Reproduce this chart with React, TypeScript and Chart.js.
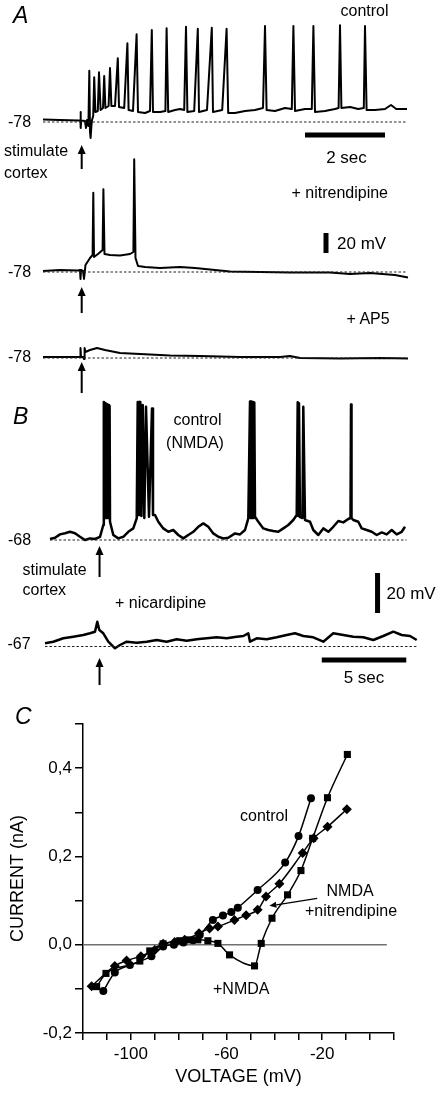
import React, { useEffect, useRef } from 'react';
import { Chart, registerables } from 'chart.js';

Chart.register(...registerables);

const FONT = '"Liberation Sans", Arial, Helvetica, sans-serif';

// ---------------- Panel A : time (s) , membrane potential (mV) ----------------
const controlA: [number, number][] = [
  [0, -75.5], [0.43, -76], [0.9, -76.5],
  [0.935, -76.5], [0.94, -68], [0.945, -84], [0.955, -76.5],
  [1.05, -77], [1.075, -84], [1.1, -76],
  [1.135, -82], [1.158, -26.7], [1.175, -88], [1.19, -94], [1.21, -82],
  [1.225, -76], [1.255, -72], [1.28, -33.3], [1.31, -68],
  [1.37, -67], [1.4, -28.3], [1.44, -66],
  [1.5, -64], [1.53, -32], [1.56, -64],
  [1.64, -62], [1.675, -24], [1.71, -62],
  [1.8, -62], [1.87, -14.3], [1.9, -63],
  [2.03, -64], [2.11, 0.7], [2.14, -66],
  [2.25, -67], [2.34, 9.7], [2.375, -68],
  [2.55, -69], [2.675, -67], [2.72, 14], [2.75, -68],
  [2.93, -68], [3.06, -67], [3.09, 15.7], [3.13, -68],
  [3.3, -66], [3.43, -65], [3.53, -66], [3.575, 17.3], [3.61, -68],
  [3.78, -67], [3.87, 15.3], [3.9, -68],
  [4.1, -66], [4.22, 16.3], [4.25, -68],
  [4.48, -66], [4.59, 15.3], [4.63, -69],
  [4.8, -69], [5.05, -67], [5.3, -66], [5.5, -64], [5.55, 18], [5.59, -66],
  [5.8, -67], [6.05, -64], [6.22, -65], [6.26, 18], [6.3, -67],
  [6.55, -65], [6.72, -65], [6.76, 18], [6.8, -68],
  [7.05, -67], [7.3, -65], [7.39, -64], [7.425, 18.7], [7.46, -64],
  [7.68, -63], [7.88, -65], [8.02, -64], [8.05, 18], [8.09, -66],
  [8.3, -66], [8.55, -65], [8.7, -61], [8.83, -65], [9.1, -65],
];

const nitrendipineA: [number, number][] = [
  [0, -77], [0.425, -76], [0.875, -76.5], [0.925, -76], [0.9375, -85], [0.95, -76],
  [1.0, -77], [1.025, -85], [1.0625, -71], [1.175, -64], [1.24, -61], [1.2575, 1.3],
  [1.275, -63], [1.375, -60], [1.49, -56], [1.51, 4.7], [1.5375, -60],
  [1.675, -61], [1.925, -61.5], [2.175, -60], [2.26, -58], [2.28, 34.7], [2.3125, -64],
  [2.375, -72], [2.55, -73], [2.925, -74], [3.425, -73], [3.8, -74], [4.3, -76],
  [4.675, -77.5], [5.425, -78], [6.175, -78.5], [7.175, -78.5], [7.675, -80],
  [8.175, -79], [8.8, -81], [9.125, -83.5],
];

const ap5A: [number, number][] = [
  [0, -77], [0.875, -77], [0.925, -77], [0.9375, -68], [0.95, -77], [1.0, -77],
  [1.025, -79], [1.04, -68], [1.06, -72], [1.175, -70], [1.35, -68], [1.55, -70],
  [1.925, -73], [2.425, -74], [3.175, -75.5], [3.925, -76], [4.925, -77], [5.925, -77],
  [6.175, -76], [6.425, -78], [7.425, -78.5], [8.425, -78], [9.125, -78.5],
];

const restingA = -78; // mV, dotted baselines
const baselineSpanA: [number, number] = [0, 9.1];
const stimTimeA = 0.9675;

// ---------------- Panel B : time (s) , membrane potential (mV) ----------------
const controlB: [number, number][] = [
  [0.118, -67.5], [0.414, -66.9], [0.71, -65.2], [1.006, -64.6], [1.302, -63.9], [1.598, -64.6],
  [1.893, -66.4], [2.189, -68], [2.485, -67.2], [2.781, -67.5], [3.077, -66.4], [3.272, -60.5],
  [3.302, 1], [3.343, -57], [3.391, 0.5], [3.432, -57], [3.479, 0], [3.521, -57], [3.568, -0.5],
  [3.609, -57], [3.645, -1],
  [3.669, -58.9], [3.864, -65.5], [4.16, -67.2], [4.456, -66.4], [4.751, -63.9], [5.047, -62.2], [5.249, -57.2],
  [5.308, 1], [5.35, -55.5], [5.385, 1], [5.42, -55.5], [5.462, 1], [5.53, -56], [5.604, -0.5],
  [5.7, -57], [5.799, -1.4], [5.976, -56.4], [6.154, -2.2], [6.213, -55.5],
  [6.331, -55.5], [6.527, -58.9], [6.822, -62.2], [7.118, -63.9], [7.414, -63], [7.71, -65.5],
  [8.006, -67.2], [8.302, -65.5], [8.598, -63.9], [8.893, -61.4], [9.189, -59.7], [9.485, -61.4],
  [9.781, -64.7], [10.077, -66.4], [10.373, -67.2], [10.669, -66.9], [11.065, -64.7], [11.361, -65.2],
  [11.657, -63], [11.852, -57.2],
  [11.953, 1.2], [11.994, -57], [12.041, 1.2], [12.083, -57], [12.13, 1], [12.166, -57], [12.207, 0.8],
  [12.249, -56.4], [12.444, -58.9], [12.74, -62.2], [13.036, -63], [13.331, -63.5], [13.627, -63.9],
  [13.923, -62.2], [14.219, -60.5], [14.515, -58], [14.716, -55.5],
  [14.775, 0.9], [14.811, -56], [14.852, 0.4], [14.911, -56.5], [15.059, -57], [15.107, -1.4],
  [15.207, -58], [15.503, -58.9], [15.698, -63], [15.994, -65.5], [16.29, -62.2], [16.586, -63.9],
  [16.882, -61.4], [17.178, -58.5], [17.473, -59.2], [17.769, -57.5], [17.9, -57], [17.929, -0.2],
  [17.96, -57], [18.065, -58], [18.361, -58.9], [18.562, -62.2], [18.858, -63], [19.154, -63.9],
  [19.45, -65.5], [19.746, -64.2], [20.041, -65.2], [20.337, -63], [20.633, -65.2], [20.929, -63.9],
  [21.124, -61.4],
];

const nicardipineB: [number, number][] = [
  [-0.178, -65.4], [0.314, -64.6], [0.905, -62.9], [1.497, -62.1], [2.089, -61.25], [2.485, -60.4],
  [2.781, -59.6], [2.917, -54.6], [3.036, -58.75], [3.272, -60.4], [3.568, -64.6], [3.964, -67.9],
  [4.26, -66.25], [4.657, -64.6], [5.249, -65.1], [5.84, -64.6], [6.432, -63.75], [7.024, -64.6],
  [7.615, -63.4], [8.207, -64.1], [8.799, -63.4], [9.391, -62.9], [9.982, -62.4], [10.574, -62.9],
  [11.166, -62.1], [11.556, -61.75], [11.852, -60.4], [11.953, -64.6], [12.349, -62.9], [12.941, -63.4],
  [13.533, -62.4], [14.124, -61.25], [14.615, -60.4], [15.107, -61.75], [15.698, -62.4], [16.29, -64.6],
  [16.882, -60.4], [17.473, -61.25], [18.065, -62.1], [18.657, -62.4], [19.249, -63.75], [19.84, -61.75],
  [20.432, -59.6], [20.929, -61.25], [21.42, -61.75], [21.817, -63.75],
];

const restingB1 = -68;
const restingB2 = -67;
const baselineSpanB1: [number, number] = [0.118, 21.22];
const baselineSpanB2: [number, number] = [-0.18, 21.8];
const stimTimeB = 3.05;

// ---------------- Panel C : voltage (mV) , current (nA) ----------------
const ivControl: [number, number][] = [
  [-111.5, -0.105], [-106.7, -0.063], [-100.4, -0.046], [-91.4, -0.026], [-86.5, -0.004],
  [-82, 0.0], [-78, 0.005], [-74, 0.01], [-71.2, 0.022], [-65.7, 0.056], [-61.5, 0.066],
  [-58, 0.074], [-55.3, 0.084], [-47, 0.124], [-35.5, 0.186], [-29.9, 0.246], [-24.7, 0.332],
];
const ivNitrendipine: [number, number][] = [
  [-116.4, -0.094], [-106.7, -0.048], [-101.8, -0.036], [-95.8, -0.026], [-90, -0.012],
  [-86.5, 0.002], [-81.7, 0.006], [-77.5, 0.011], [-71.5, 0.026], [-67.1, 0.037], [-63.6, 0.041],
  [-56.7, 0.056], [-51.8, 0.067], [-47, 0.079], [-43.5, 0.109], [-37.9, 0.138], [-28.2, 0.208],
  [-23.6, 0.241], [-17.8, 0.267], [-9.7, 0.307],
];
const ivNMDA: [number, number][] = [
  [-114.3, -0.095], [-110.4, -0.065], [-96.25, -0.037], [-92.1, -0.014], [-86.5, 0.002],
  [-79.6, 0.009], [-76.1, 0.011], [-72, 0.011], [-67.8, 0.009], [-63.6, 0.003], [-58.75, -0.023],
  [-48.3, -0.048], [-45.5, 0.003], [-41, 0.06], [-34.5, 0.113], [-28.9, 0.168], [-24, 0.241],
  [-17.8, 0.333], [-9.5, 0.431],
];
const zeroLineSpan: [number, number] = [-120, 7];
const voltageLabels = [-100, -60, -20];
const currentLabels = [-0.2, 0, 0.2, 0.4];

// ---------------- scale bars ----------------
const barSecA = 2;
const barMvA = 20;
const barSecB = 5;
const barMvB = 20;

// ---------------- layout (page pixels) ----------------
const W = 442;
const H = 1093;

const toXY = (arr: [number, number][]) => arr.map(([x, y]) => ({ x, y }));

const arrowPlugin = {
  id: 'arrowMarks',
  afterDatasetsDraw(chart: any, _args: any, opts: any) {
    const arrows = (opts && opts.arrows) || [];
    const ctx = chart.ctx;
    const xs = chart.scales.x;
    ctx.save();
    for (const a of arrows) {
      const ys = chart.scales[a.axis];
      const x1 = xs.getPixelForValue(a.x1);
      const y1 = ys.getPixelForValue(a.y1);
      const x2 = xs.getPixelForValue(a.x2);
      const y2 = ys.getPixelForValue(a.y2);
      const ang = Math.atan2(y2 - y1, x2 - x1);
      const hl = a.head;
      const hw = a.half;
      const bx = x2 - hl * Math.cos(ang);
      const by = y2 - hl * Math.sin(ang);
      ctx.strokeStyle = '#000';
      ctx.fillStyle = '#000';
      ctx.lineWidth = a.width;
      ctx.beginPath();
      ctx.moveTo(x1, y1);
      ctx.lineTo(bx, by);
      ctx.stroke();
      ctx.beginPath();
      ctx.moveTo(x2, y2);
      ctx.lineTo(bx + hw * Math.sin(ang), by - hw * Math.cos(ang));
      ctx.lineTo(bx - hw * Math.sin(ang), by + hw * Math.cos(ang));
      ctx.closePath();
      ctx.fill();
    }
    ctx.restore();
  },
};

const traceDs = (arr: [number, number][], axis: string, width: number) => ({
  data: toXY(arr),
  yAxisID: axis,
  borderColor: '#000',
  borderWidth: width,
  pointRadius: 0,
  tension: 0,
  borderJoinStyle: 'round' as const,
  fill: false,
});

const dashDs = (span: [number, number], v: number, axis: string) => ({
  data: [{ x: span[0], y: v }, { x: span[1], y: v }],
  yAxisID: axis,
  borderColor: '#222',
  borderWidth: 1,
  borderDash: [2.5, 2],
  pointRadius: 0,
  fill: false,
});

const barDs = (pts: { x: number; y: number }[], axis: string) => ({
  data: pts,
  yAxisID: axis,
  borderColor: '#000',
  borderWidth: 5,
  borderCapStyle: 'butt' as const,
  pointRadius: 0,
  fill: false,
});

// pixel mapping helpers for hidden linear scales
const range = (valAtPx: number, px: number, pxPerUnit: number, top: number, height: number) => ({
  max: valAtPx + (px - top) / pxPerUnit,
  min: valAtPx - (top + height - px) / pxPerUnit,
});

const hidden = (r: { min: number; max: number }) => ({ type: 'linear' as const, display: false, min: r.min, max: r.max });

const baseOpts = {
  animation: false as const,
  responsive: false,
  maintainAspectRatio: false,
  layout: { padding: 0 },
  events: [] as any[],
};

const LABELS: { t: string; x: number; y: number; size?: number; anchor?: string; italic?: boolean }[] = [
  { t: 'A', x: 13, y: 15, size: 23, italic: true },
  { t: 'control', x: 340.5, y: 11 },
  { t: '-78', x: 8, y: 122 },
  { t: 'stimulate', x: 4, y: 151 },
  { t: 'cortex', x: 4, y: 172.5 },
  { t: '2 sec', x: 346.5, y: 157, anchor: 'center', size: 17 },
  { t: '+ nitrendipine', x: 291.5, y: 193 },
  { t: '20 mV', x: 337, y: 243, size: 17 },
  { t: '-78', x: 8, y: 271.5 },
  { t: '+ AP5', x: 346.5, y: 319 },
  { t: '-78', x: 8, y: 357 },
  { t: 'B', x: 13, y: 416, size: 23, italic: true },
  { t: 'control', x: 197.5, y: 420, anchor: 'center' },
  { t: '(NMDA)', x: 195, y: 443, anchor: 'center' },
  { t: '-68', x: 8, y: 540 },
  { t: 'stimulate', x: 22.5, y: 570 },
  { t: 'cortex', x: 22.5, y: 590 },
  { t: '20 mV', x: 386.5, y: 593, size: 17 },
  { t: '+ nicardipine', x: 115, y: 603 },
  { t: '-67', x: 7.5, y: 643.5 },
  { t: '5 sec', x: 364, y: 677, anchor: 'center', size: 17 },
  { t: 'C', x: 15, y: 716, size: 23, italic: true },
  { t: 'control', x: 240, y: 816 },
  { t: 'NMDA', x: 326.5, y: 891 },
  { t: '+nitrendipine', x: 305, y: 911 },
  { t: '+NMDA', x: 213, y: 989 },
];

function Label({ t, x, y, size = 16, anchor = 'left', italic = false }: any) {
  const tx = anchor === 'left' ? '0' : anchor === 'center' ? '-50%' : '-100%';
  return (
    <div
      style={{
        position: 'absolute',
        left: x,
        top: y,
        transform: `translate(${tx}, -50%)`,
        fontSize: size,
        lineHeight: 1,
        whiteSpace: 'nowrap',
        fontStyle: italic ? 'italic' : 'normal',
        color: '#000',
      }}
    >
      {t}
    </div>
  );
}

// canvas placements
const A_BOX = { top: 0, height: 420 };
const B_BOX = { top: 380, height: 320 };
const C_BOX = { top: 700, height: 393 };

export default function App() {
  const refA = useRef<HTMLCanvasElement>(null);
  const refB = useRef<HTMLCanvasElement>(null);
  const refC = useRef<HTMLCanvasElement>(null);

  useEffect(() => {
    // ---------- Panel A ----------
    const pxPerSecA = 40;
    const t0PxA = 43;
    const xA = range(0, t0PxA, pxPerSecA, 0, W);
    const xAr = { min: xA.min === undefined ? 0 : -t0PxA / pxPerSecA, max: (W - t0PxA) / pxPerSecA };
    const pxPerMvA = 1;
    const yCtl = range(restingA, 122 - A_BOX.top, pxPerMvA, 0, A_BOX.height);
    const yNit = range(restingA, 272 - A_BOX.top, pxPerMvA, 0, A_BOX.height);
    const yAp5 = range(restingA, 358 - A_BOX.top, pxPerMvA, 0, A_BOX.height);
    // invert range sense: larger mV is up
    const fix = (r: { min: number; max: number }, px: number, v: number, ppu: number, h: number) => ({
      max: v + px / ppu,
      min: v - (h - px) / ppu,
    });
    const yCtlR = fix(yCtl, 122 - A_BOX.top, restingA, pxPerMvA, A_BOX.height);
    const yNitR = fix(yNit, 272 - A_BOX.top, restingA, pxPerMvA, A_BOX.height);
    const yAp5R = fix(yAp5, 358 - A_BOX.top, restingA, pxPerMvA, A_BOX.height);

    const barAx = 6.55;
    const barAv = -91;
    const mvBarT = 7.075;
    const mvBarV = -59;

    const chartA = new Chart(refA.current as HTMLCanvasElement, {
      type: 'line',
      data: {
        datasets: [
          dashDs(baselineSpanA, restingA, 'yCtl'),
          dashDs(baselineSpanA, restingA, 'yNit'),
          dashDs(baselineSpanA, restingA, 'yAp5'),
          traceDs(controlA, 'yCtl', 2),
          traceDs(nitrendipineA, 'yNit', 2),
          traceDs(ap5A, 'yAp5', 2),
          barDs([{ x: barAx, y: barAv }, { x: barAx + barSecA, y: barAv }], 'yCtl'),
          barDs([{ x: mvBarT, y: mvBarV }, { x: mvBarT, y: mvBarV + barMvA }], 'yNit'),
        ] as any,
      },
      options: {
        ...baseOpts,
        plugins: {
          legend: { display: false },
          tooltip: { enabled: false },
          arrowMarks: {
            arrows: [
              { axis: 'yCtl', x1: stimTimeA, y1: -125, x2: stimTimeA, y2: -101, width: 2, head: 9, half: 4 },
              { axis: 'yNit', x1: stimTimeA, y1: -119, x2: stimTimeA, y2: -93, width: 2, head: 9, half: 4 },
              { axis: 'yAp5', x1: stimTimeA, y1: -113, x2: stimTimeA, y2: -82, width: 2, head: 9, half: 4 },
            ],
          },
        } as any,
        scales: {
          x: hidden(xAr),
          yCtl: hidden(yCtlR),
          yNit: hidden(yNitR),
          yAp5: hidden(yAp5R),
        } as any,
      },
      plugins: [arrowPlugin as any],
    });

    // ---------- Panel B ----------
    const pxPerSecB = 16.9;
    const t0PxB = 48;
    const xBr = { min: -t0PxB / pxPerSecB, max: (W - t0PxB) / pxPerSecB };
    const pxPerMvB = 2;
    const yB1 = fix({ min: 0, max: 0 }, 540 - B_BOX.top, restingB1, pxPerMvB, B_BOX.height);
    const yB2 = fix({ min: 0, max: 0 }, 646.5 - B_BOX.top, restingB2, pxPerMvB, B_BOX.height);
    const barBx = 16.2;
    const barBv = -73.75;
    const mvBarBt = 19.5;
    const mvBarBv = -104.5;

    const chartB = new Chart(refB.current as HTMLCanvasElement, {
      type: 'line',
      data: {
        datasets: [
          dashDs(baselineSpanB1, restingB1, 'yB1'),
          dashDs(baselineSpanB2, restingB2, 'yB2'),
          traceDs(controlB, 'yB1', 2.5),
          traceDs(nicardipineB, 'yB2', 2.5),
          barDs([{ x: barBx, y: barBv }, { x: barBx + barSecB, y: barBv }], 'yB2'),
          barDs([{ x: mvBarBt, y: mvBarBv }, { x: mvBarBt, y: mvBarBv + barMvB }], 'yB1'),
        ] as any,
      },
      options: {
        ...baseOpts,
        plugins: {
          legend: { display: false },
          tooltip: { enabled: false },
          arrowMarks: {
            arrows: [
              { axis: 'yB1', x1: stimTimeB, y1: -86.5, x2: stimTimeB, y2: -71, width: 2, head: 9, half: 4 },
              { axis: 'yB2', x1: stimTimeB, y1: -86.25, x2: stimTimeB, y2: -72.75, width: 2, head: 9, half: 4 },
            ],
          },
        } as any,
        scales: {
          x: hidden(xBr),
          yB1: hidden(yB1),
          yB2: hidden(yB2),
        } as any,
      },
      plugins: [arrowPlugin as any],
    });

    // ---------- Panel C ----------
    const ivDs = (arr: [number, number][], style: string, radius: number) => ({
      data: toXY(arr),
      borderColor: '#000',
      backgroundColor: '#000',
      borderWidth: 1.5,
      pointStyle: style,
      pointRadius: radius,
      pointBorderWidth: 0,
      cubicInterpolationMode: 'monotone' as const,
      fill: false,
      clip: false,
    });

    const chartC = new Chart(refC.current as HTMLCanvasElement, {
      type: 'line',
      data: {
        datasets: [
          {
            data: [{ x: zeroLineSpan[0], y: 0 }, { x: zeroLineSpan[1], y: 0 }],
            borderColor: '#707070',
            borderWidth: 1.5,
            pointRadius: 0,
            order: 10,
            fill: false,
          },
          ivDs(ivControl, 'circle', 4),
          ivDs(ivNitrendipine, 'rectRot', 5),
          ivDs(ivNMDA, 'rect', 5),
        ] as any,
      },
      options: {
        ...baseOpts,
        layout: { padding: { top: 24, right: 48, left: 0, bottom: 0 } },
        plugins: {
          legend: { display: false },
          tooltip: { enabled: false },
          arrowMarks: {
            arrows: [{ axis: 'y', x1: -22.1, y1: 0.105, x2: -42.1, y2: 0.088, width: 1.2, head: 7, half: 3 }],
          },
        } as any,
        scales: {
          x: {
            type: 'linear',
            min: -120,
            max: 10,
            ticks: {
              stepSize: 10,
              autoSkip: false,
              maxRotation: 0,
              padding: 4,
              color: '#000',
              font: { size: 17, family: FONT },
              callback: (v: any) => (voltageLabels.includes(Math.round(Number(v))) ? String(Math.round(Number(v))) : ''),
            },
            grid: { display: true, drawOnChartArea: false, drawTicks: true, tickLength: 7, color: '#000', lineWidth: 1.5 },
            border: { display: true, color: '#000', width: 1.5 },
            title: {
              display: true,
              text: 'VOLTAGE (mV)',
              color: '#000',
              font: { size: 18, family: FONT, lineHeight: 1.2 },
              padding: { top: 0, bottom: 5 },
            },
            afterFit: (s: any) => {
              s.height = 60;
            },
          },
          y: {
            type: 'linear',
            min: -0.2,
            max: 0.5,
            ticks: {
              stepSize: 0.1,
              autoSkip: false,
              padding: 3,
              color: '#000',
              font: { size: 17, family: FONT },
              callback: (v: any) => {
                const k = Math.round(Number(v) * 10);
                const hit = currentLabels.find((c) => Math.round(c * 10) === k);
                return hit === undefined ? '' : hit.toFixed(1).replace('.', ',');
              },
            },
            grid: { display: true, drawOnChartArea: false, drawTicks: true, tickLength: 8, color: '#000', lineWidth: 1.5 },
            border: { display: true, color: '#000', width: 1.5 },
            title: {
              display: true,
              text: 'CURRENT (nA)',
              color: '#000',
              font: { size: 18, family: FONT, lineHeight: 1.2 },
              padding: { top: 7, bottom: 0 },
            },
            afterFit: (s: any) => {
              s.width = 83;
            },
          },
        } as any,
      },
      plugins: [arrowPlugin as any],
    });

    return () => {
      chartA.destroy();
      chartB.destroy();
      chartC.destroy();
    };
  }, []);

  return (
    <div
      style={{
        position: 'absolute',
        left: 0,
        top: 0,
        width: W,
        height: H,
        background: '#fff',
        overflow: 'hidden',
        fontFamily: FONT,
      }}
    >
      <canvas
        ref={refA}
        width={W}
        height={A_BOX.height}
        style={{ position: 'absolute', left: 0, top: A_BOX.top, width: W, height: A_BOX.height }}
      />
      <canvas
        ref={refB}
        width={W}
        height={B_BOX.height}
        style={{ position: 'absolute', left: 0, top: B_BOX.top, width: W, height: B_BOX.height }}
      />
      <canvas
        ref={refC}
        width={W}
        height={C_BOX.height}
        style={{ position: 'absolute', left: 0, top: C_BOX.top, width: W, height: C_BOX.height }}
      />
      {LABELS.map((l, i) => (
        <Label key={i} {...l} />
      ))}
    </div>
  );
}
